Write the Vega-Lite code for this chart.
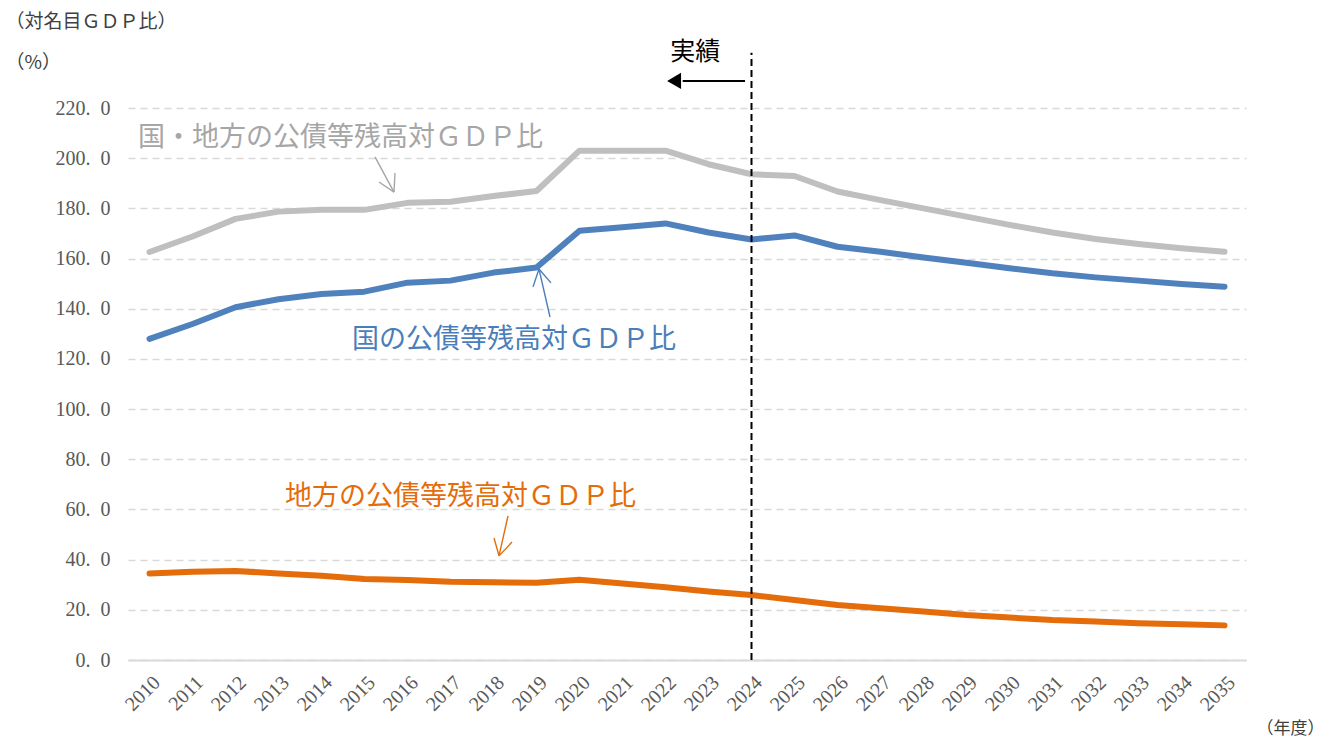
{
  "$schema": "https://vega.github.io/schema/vega-lite/v6.json",
  "width": 1118,
  "height": 552,
  "autosize": "none",
  "padding": {"left": 128, "top": 108, "right": 82, "bottom": 82},
  "background": "white",
  "config": {"view": {"stroke": null}},
  "datasets": {
    "series": [
      {"year": 2010, "series": "total", "value": 162.6},
      {"year": 2011, "series": "total", "value": 168.8},
      {"year": 2012, "series": "total", "value": 175.8},
      {"year": 2013, "series": "total", "value": 178.7},
      {"year": 2014, "series": "total", "value": 179.4},
      {"year": 2015, "series": "total", "value": 179.4},
      {"year": 2016, "series": "total", "value": 182.2},
      {"year": 2017, "series": "total", "value": 182.6},
      {"year": 2018, "series": "total", "value": 184.9},
      {"year": 2019, "series": "total", "value": 186.9},
      {"year": 2020, "series": "total", "value": 203.0},
      {"year": 2021, "series": "total", "value": 203.0},
      {"year": 2022, "series": "total", "value": 203.0},
      {"year": 2023, "series": "total", "value": 197.6},
      {"year": 2024, "series": "total", "value": 193.6},
      {"year": 2025, "series": "total", "value": 192.9},
      {"year": 2026, "series": "total", "value": 186.7},
      {"year": 2027, "series": "total", "value": 183.3},
      {"year": 2028, "series": "total", "value": 180.0},
      {"year": 2029, "series": "total", "value": 176.7},
      {"year": 2030, "series": "total", "value": 173.4},
      {"year": 2031, "series": "total", "value": 170.4},
      {"year": 2032, "series": "total", "value": 167.8},
      {"year": 2033, "series": "total", "value": 165.8},
      {"year": 2034, "series": "total", "value": 164.1},
      {"year": 2035, "series": "total", "value": 162.7},
      {"year": 2010, "series": "national", "value": 128.0},
      {"year": 2011, "series": "national", "value": 133.9},
      {"year": 2012, "series": "national", "value": 140.6},
      {"year": 2013, "series": "national", "value": 143.8},
      {"year": 2014, "series": "national", "value": 145.9},
      {"year": 2015, "series": "national", "value": 146.8},
      {"year": 2016, "series": "national", "value": 150.4},
      {"year": 2017, "series": "national", "value": 151.2},
      {"year": 2018, "series": "national", "value": 154.4},
      {"year": 2019, "series": "national", "value": 156.4},
      {"year": 2020, "series": "national", "value": 171.1},
      {"year": 2021, "series": "national", "value": 172.5},
      {"year": 2022, "series": "national", "value": 174.0},
      {"year": 2023, "series": "national", "value": 170.4},
      {"year": 2024, "series": "national", "value": 167.6},
      {"year": 2025, "series": "national", "value": 169.2},
      {"year": 2026, "series": "national", "value": 164.7},
      {"year": 2027, "series": "national", "value": 162.7},
      {"year": 2028, "series": "national", "value": 160.4},
      {"year": 2029, "series": "national", "value": 158.3},
      {"year": 2030, "series": "national", "value": 156.1},
      {"year": 2031, "series": "national", "value": 154.1},
      {"year": 2032, "series": "national", "value": 152.5},
      {"year": 2033, "series": "national", "value": 151.2},
      {"year": 2034, "series": "national", "value": 149.9},
      {"year": 2035, "series": "national", "value": 148.8},
      {"year": 2010, "series": "local", "value": 34.5},
      {"year": 2011, "series": "local", "value": 35.2},
      {"year": 2012, "series": "local", "value": 35.5},
      {"year": 2013, "series": "local", "value": 34.5},
      {"year": 2014, "series": "local", "value": 33.6},
      {"year": 2015, "series": "local", "value": 32.3},
      {"year": 2016, "series": "local", "value": 31.9},
      {"year": 2017, "series": "local", "value": 31.2},
      {"year": 2018, "series": "local", "value": 31.0},
      {"year": 2019, "series": "local", "value": 30.8},
      {"year": 2020, "series": "local", "value": 32.0},
      {"year": 2021, "series": "local", "value": 30.5},
      {"year": 2022, "series": "local", "value": 29.0},
      {"year": 2023, "series": "local", "value": 27.3},
      {"year": 2024, "series": "local", "value": 25.9},
      {"year": 2025, "series": "local", "value": 23.9},
      {"year": 2026, "series": "local", "value": 21.9},
      {"year": 2027, "series": "local", "value": 20.6},
      {"year": 2028, "series": "local", "value": 19.3},
      {"year": 2029, "series": "local", "value": 17.9},
      {"year": 2030, "series": "local", "value": 16.9},
      {"year": 2031, "series": "local", "value": 15.9},
      {"year": 2032, "series": "local", "value": 15.3},
      {"year": 2033, "series": "local", "value": 14.6},
      {"year": 2034, "series": "local", "value": 14.2},
      {"year": 2035, "series": "local", "value": 13.8}
    ],
    "labels": [
      {"series": "total", "x": 2009.73, "y": 208.0, "text": "国・地方の公債等残高対ＧＤＰ比"},
      {"series": "national", "x": 2014.71, "y": 127.5, "text": "国の公債等残高対ＧＤＰ比"},
      {"series": "local", "x": 2013.15, "y": 65.0, "text": "地方の公債等残高対ＧＤＰ比"}
    ],
    "arrows": [
      {"series": "total", "x": 2015.244, "y": 200.5, "x2": 2015.686, "y2": 186.5},
      {"series": "total", "x": 2015.337, "y": 190.5, "x2": 2015.686, "y2": 186.5},
      {"series": "total", "x": 2015.709, "y": 194.1, "x2": 2015.686, "y2": 186.5},
      {"series": "national", "x": 2019.314, "y": 136.7, "x2": 2019.058, "y2": 155.8},
      {"series": "national", "x": 2018.919, "y": 148.7, "x2": 2019.058, "y2": 155.8},
      {"series": "national", "x": 2019.337, "y": 150.3, "x2": 2019.058, "y2": 155.8},
      {"series": "local", "x": 2018.337, "y": 57.4, "x2": 2018.128, "y2": 41.5},
      {"series": "local", "x": 2018.012, "y": 48.6, "x2": 2018.128, "y2": 41.5},
      {"series": "local", "x": 2018.430, "y": 47.0, "x2": 2018.128, "y2": 41.5}
    ],
    "divider": [{"x": 2024, "y": 0, "y2": 242}],
    "actualArrow": [{"x": 2023.85, "x2": 2022.4, "y": 230.8}],
    "actualHead": [{"x": 2022.2, "y": 230.8}],
    "actualText": [{"x": 2022.69, "y": 242.3, "text": "実績"}]
  },
  "layer": [
    {
      "data": {"name": "series"},
      "mark": {"type": "line", "strokeWidth": 6, "strokeCap": "round", "strokeJoin": "round"},
      "encoding": {
        "x": {
          "field": "year", "type": "quantitative",
          "scale": {"domain": [2009.5, 2035.5], "nice": false, "zero": false},
          "axis": {
            "values": [2010, 2011, 2012, 2013, 2014, 2015, 2016, 2017, 2018, 2019, 2020, 2021, 2022, 2023, 2024, 2025, 2026, 2027, 2028, 2029, 2030, 2031, 2032, 2033, 2034, 2035],
            "format": "d", "labelAngle": -45, "grid": false, "ticks": false,
            "domainColor": "#d9d9d9", "domainWidth": 2,
            "labelFont": "Liberation Serif", "labelFontSize": 20, "labelColor": "#595959",
            "labelPadding": 12, "labelOverlap": false,
            "title": "（年度）", "titleFont": "Noto Sans CJK JP", "titleFontSize": 17,
            "titleFontWeight": "normal", "titleColor": "#404040",
            "titleX": 1128, "titleY": 68, "titleAlign": "left", "titleBaseline": "middle"
          }
        },
        "y": {
          "field": "value", "type": "quantitative",
          "scale": {"domain": [0, 220], "nice": false},
          "axis": {
            "values": [0, 20, 40, 60, 80, 100, 120, 140, 160, 180, 200, 220],
            "labelExpr": "replace(format(datum.value, '.1f'), '.', '.\u2002')",
            "grid": true, "gridDash": [7, 5], "gridColor": "#d9d9d9", "gridWidth": 1.5,
            "domain": false, "ticks": false,
            "labelFont": "Liberation Serif", "labelFontSize": 20, "labelColor": "#595959",
            "labelPadding": 18,
            "title": ["（対名目ＧＤＰ比）", "\u2002（%）"],
            "titleFont": "Noto Sans CJK JP", "titleFontSize": 19, "titleFontWeight": "normal",
            "titleColor": "#404040", "titleAngle": 0, "titleAlign": "left", "titleBaseline": "top",
            "titleX": -123, "titleY": -96, "titleLineHeight": 41
          }
        },
        "color": {
          "field": "series", "type": "nominal", "legend": null,
          "scale": {"domain": ["total", "national", "local"], "range": ["#bfbfbf", "#4f81bd", "#e46c0a"]}
        }
      }
    },
    {
      "data": {"name": "divider"},
      "mark": {"type": "rule", "color": "#000000", "strokeWidth": 2, "strokeDash": [7, 4]},
      "encoding": {
        "x": {"field": "x", "type": "quantitative"},
        "y": {"field": "y", "type": "quantitative"},
        "y2": {"field": "y2"}
      }
    },
    {
      "data": {"name": "actualArrow"},
      "mark": {"type": "rule", "color": "#000000", "strokeWidth": 2},
      "encoding": {
        "x": {"field": "x", "type": "quantitative"},
        "x2": {"field": "x2"},
        "y": {"field": "y", "type": "quantitative"}
      }
    },
    {
      "data": {"name": "actualHead"},
      "mark": {"type": "point", "shape": "triangle-left", "filled": true, "color": "#000000", "size": 260, "opacity": 1},
      "encoding": {
        "x": {"field": "x", "type": "quantitative"},
        "y": {"field": "y", "type": "quantitative"}
      }
    },
    {
      "data": {"name": "actualText"},
      "mark": {"type": "text", "font": "Noto Sans CJK JP", "fontSize": 25, "fontWeight": "normal", "color": "#000000", "align": "center", "baseline": "middle"},
      "encoding": {
        "x": {"field": "x", "type": "quantitative"},
        "y": {"field": "y", "type": "quantitative"},
        "text": {"field": "text"}
      }
    },
    {
      "data": {"name": "arrows"},
      "mark": {"type": "rule", "strokeWidth": 1.4},
      "encoding": {
        "x": {"field": "x", "type": "quantitative"},
        "y": {"field": "y", "type": "quantitative"},
        "x2": {"field": "x2"},
        "y2": {"field": "y2"},
        "color": {
          "field": "series", "type": "nominal", "legend": null,
          "scale": {"domain": ["total", "national", "local"], "range": ["#a6a6a6", "#4a7ebb", "#e46c0a"]}
        }
      }
    },
    {
      "data": {"name": "labels"},
      "mark": {"type": "text", "font": "Noto Sans CJK JP", "fontSize": 27, "align": "left", "baseline": "middle"},
      "encoding": {
        "x": {"field": "x", "type": "quantitative"},
        "y": {"field": "y", "type": "quantitative"},
        "text": {"field": "text"},
        "color": {
          "field": "series", "type": "nominal", "legend": null,
          "scale": {"domain": ["total", "national", "local"], "range": ["#a6a6a6", "#4a7ebb", "#e46c0a"]}
        }
      }
    }
  ],
  "resolve": {"scale": {"color": "independent"}}
}
